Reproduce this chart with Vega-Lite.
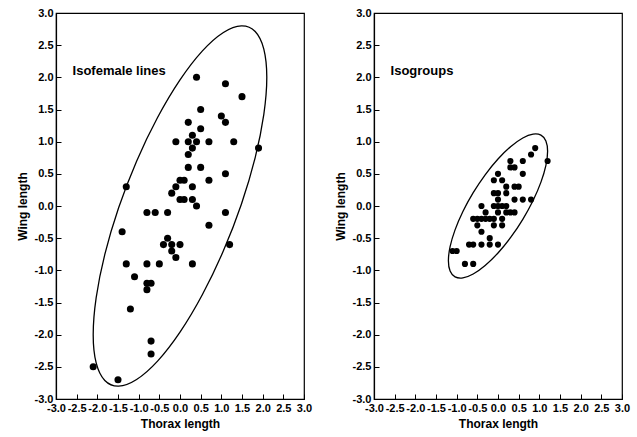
{
  "$schema": "https://vega.github.io/schema/vega-lite/v6.json",
  "padding": {"left": 15, "top": 6, "right": 5, "bottom": 5},
  "background": "white",
  "spacing": 20,
  "config": {
    "view": {"stroke": "#000", "strokeWidth": 1.2},
    "font": "Liberation Sans",
    "axis": {
      "grid": false,
      "domainColor": "#000",
      "domainWidth": 1.2,
      "tickColor": "#000",
      "tickSize": -5,
      "labelPadding": 8,
      "labelFont": "Liberation Sans",
      "labelFontWeight": "bold",
      "labelFontSize": 11,
      "labelColor": "#000",
      "labelOverlap": false,
      "labelFlush": false,
      "labelBound": false,
      "titleFont": "Liberation Sans",
      "titleFontWeight": "bold",
      "titleFontSize": 12,
      "titleColor": "#000",
      "titlePadding": 5
    }
  },
  "datasets": {
    "pts": [
      {"panel": "L", "x": 0.4, "y": 2.0}, {"panel": "L", "x": 1.1, "y": 1.9}, {"panel": "L", "x": 1.5, "y": 1.7},
      {"panel": "L", "x": 0.5, "y": 1.5}, {"panel": "L", "x": 1.0, "y": 1.4}, {"panel": "L", "x": 1.1, "y": 1.3},
      {"panel": "L", "x": 0.2, "y": 1.3}, {"panel": "L", "x": 0.5, "y": 1.2}, {"panel": "L", "x": 0.3, "y": 1.1},
      {"panel": "L", "x": -0.1, "y": 1.0}, {"panel": "L", "x": 0.2, "y": 1.0}, {"panel": "L", "x": 0.4, "y": 1.0},
      {"panel": "L", "x": 0.7, "y": 1.0}, {"panel": "L", "x": 1.3, "y": 1.0}, {"panel": "L", "x": 0.3, "y": 0.9},
      {"panel": "L", "x": 1.9, "y": 0.9}, {"panel": "L", "x": 0.2, "y": 0.8}, {"panel": "L", "x": 0.2, "y": 0.6},
      {"panel": "L", "x": 0.5, "y": 0.6}, {"panel": "L", "x": 1.1, "y": 0.5}, {"panel": "L", "x": 0.7, "y": 0.4},
      {"panel": "L", "x": 0.0, "y": 0.4}, {"panel": "L", "x": 0.1, "y": 0.4}, {"panel": "L", "x": -0.1, "y": 0.3},
      {"panel": "L", "x": 0.3, "y": 0.3}, {"panel": "L", "x": -1.3, "y": 0.3}, {"panel": "L", "x": -0.2, "y": 0.2},
      {"panel": "L", "x": 0.0, "y": 0.1}, {"panel": "L", "x": 0.1, "y": 0.1}, {"panel": "L", "x": 0.3, "y": 0.1},
      {"panel": "L", "x": 0.4, "y": 0.0}, {"panel": "L", "x": -0.8, "y": -0.1}, {"panel": "L", "x": -0.6, "y": -0.1},
      {"panel": "L", "x": -0.3, "y": -0.1}, {"panel": "L", "x": 1.1, "y": -0.1}, {"panel": "L", "x": 0.7, "y": -0.3},
      {"panel": "L", "x": -1.4, "y": -0.4}, {"panel": "L", "x": -0.3, "y": -0.5}, {"panel": "L", "x": -0.4, "y": -0.6},
      {"panel": "L", "x": -0.2, "y": -0.6}, {"panel": "L", "x": 0.0, "y": -0.6}, {"panel": "L", "x": 1.2, "y": -0.6},
      {"panel": "L", "x": -0.2, "y": -0.7}, {"panel": "L", "x": -0.1, "y": -0.8}, {"panel": "L", "x": -1.3, "y": -0.9},
      {"panel": "L", "x": -0.8, "y": -0.9}, {"panel": "L", "x": -0.5, "y": -0.9}, {"panel": "L", "x": 0.3, "y": -0.9},
      {"panel": "L", "x": -1.1, "y": -1.1}, {"panel": "L", "x": -0.8, "y": -1.2}, {"panel": "L", "x": -0.7, "y": -1.2},
      {"panel": "L", "x": -0.8, "y": -1.3}, {"panel": "L", "x": -1.2, "y": -1.6}, {"panel": "L", "x": -0.7, "y": -2.1},
      {"panel": "L", "x": -0.7, "y": -2.3}, {"panel": "L", "x": -2.1, "y": -2.5}, {"panel": "L", "x": -1.5, "y": -2.7},

      {"panel": "R", "x": 0.9, "y": 0.9}, {"panel": "R", "x": 0.8, "y": 0.8}, {"panel": "R", "x": 1.2, "y": 0.7},
      {"panel": "R", "x": 0.3, "y": 0.7}, {"panel": "R", "x": 0.6, "y": 0.7}, {"panel": "R", "x": 0.3, "y": 0.6},
      {"panel": "R", "x": 0.4, "y": 0.6}, {"panel": "R", "x": 0.6, "y": 0.5}, {"panel": "R", "x": 0.0, "y": 0.5},
      {"panel": "R", "x": -0.1, "y": 0.4}, {"panel": "R", "x": 0.1, "y": 0.4}, {"panel": "R", "x": 0.2, "y": 0.3},
      {"panel": "R", "x": 0.4, "y": 0.3}, {"panel": "R", "x": 0.5, "y": 0.3}, {"panel": "R", "x": -0.1, "y": 0.2},
      {"panel": "R", "x": 0.0, "y": 0.2}, {"panel": "R", "x": 0.2, "y": 0.2}, {"panel": "R", "x": 0.0, "y": 0.1},
      {"panel": "R", "x": 0.4, "y": 0.1}, {"panel": "R", "x": 0.6, "y": 0.1}, {"panel": "R", "x": 0.8, "y": 0.1},
      {"panel": "R", "x": -0.4, "y": 0.0}, {"panel": "R", "x": -0.1, "y": 0.0}, {"panel": "R", "x": 0.0, "y": 0.0},
      {"panel": "R", "x": 0.1, "y": 0.0}, {"panel": "R", "x": 0.2, "y": 0.0}, {"panel": "R", "x": -0.3, "y": -0.1},
      {"panel": "R", "x": 0.0, "y": -0.1}, {"panel": "R", "x": 0.2, "y": -0.1}, {"panel": "R", "x": 0.3, "y": -0.1},
      {"panel": "R", "x": 0.4, "y": -0.1}, {"panel": "R", "x": -0.6, "y": -0.2}, {"panel": "R", "x": -0.5, "y": -0.2},
      {"panel": "R", "x": -0.4, "y": -0.2}, {"panel": "R", "x": -0.3, "y": -0.2}, {"panel": "R", "x": -0.2, "y": -0.2},
      {"panel": "R", "x": -0.1, "y": -0.2}, {"panel": "R", "x": 0.1, "y": -0.2}, {"panel": "R", "x": -0.5, "y": -0.3},
      {"panel": "R", "x": -0.1, "y": -0.3}, {"panel": "R", "x": 0.1, "y": -0.3}, {"panel": "R", "x": -0.4, "y": -0.4},
      {"panel": "R", "x": -0.2, "y": -0.5}, {"panel": "R", "x": -0.7, "y": -0.6}, {"panel": "R", "x": -0.6, "y": -0.6},
      {"panel": "R", "x": -0.4, "y": -0.6}, {"panel": "R", "x": -0.2, "y": -0.6}, {"panel": "R", "x": 0.0, "y": -0.6},
      {"panel": "R", "x": -1.1, "y": -0.7}, {"panel": "R", "x": -1.0, "y": -0.7}, {"panel": "R", "x": -0.8, "y": -0.9},
      {"panel": "R", "x": -0.6, "y": -0.9}
    ],
    "ell": [
      {"panel": "L", "t": 0, "x": 2.1, "y": 2.0}, {"panel": "L", "t": 1, "x": 2.028, "y": 2.439},
      {"panel": "L", "t": 2, "x": 1.819, "y": 2.712}, {"panel": "L", "t": 3, "x": 1.485, "y": 2.8},
      {"panel": "L", "t": 4, "x": 1.05, "y": 2.697}, {"panel": "L", "t": 5, "x": 0.543, "y": 2.411},
      {"panel": "L", "t": 6, "x": 0.0, "y": 1.96}, {"panel": "L", "t": 7, "x": -0.543, "y": 1.375},
      {"panel": "L", "t": 8, "x": -1.05, "y": 0.697}, {"panel": "L", "t": 9, "x": -1.485, "y": -0.028},
      {"panel": "L", "t": 10, "x": -1.819, "y": -0.752}, {"panel": "L", "t": 11, "x": -2.028, "y": -1.425},
      {"panel": "L", "t": 12, "x": -2.1, "y": -2.0}, {"panel": "L", "t": 13, "x": -2.028, "y": -2.439},
      {"panel": "L", "t": 14, "x": -1.819, "y": -2.712}, {"panel": "L", "t": 15, "x": -1.485, "y": -2.8},
      {"panel": "L", "t": 16, "x": -1.05, "y": -2.697}, {"panel": "L", "t": 17, "x": -0.543, "y": -2.411},
      {"panel": "L", "t": 18, "x": 0.0, "y": -1.96}, {"panel": "L", "t": 19, "x": 0.543, "y": -1.375},
      {"panel": "L", "t": 20, "x": 1.05, "y": -0.697}, {"panel": "L", "t": 21, "x": 1.485, "y": 0.028},
      {"panel": "L", "t": 22, "x": 1.819, "y": 0.752}, {"panel": "L", "t": 23, "x": 2.028, "y": 1.425},

      {"panel": "R", "t": 0, "x": 1.2, "y": 0.85}, {"panel": "R", "t": 1, "x": 1.159, "y": 1.01},
      {"panel": "R", "t": 2, "x": 1.039, "y": 1.101}, {"panel": "R", "t": 3, "x": 0.849, "y": 1.117},
      {"panel": "R", "t": 4, "x": 0.6, "y": 1.057}, {"panel": "R", "t": 5, "x": 0.311, "y": 0.925},
      {"panel": "R", "t": 6, "x": 0.0, "y": 0.73}, {"panel": "R", "t": 7, "x": -0.311, "y": 0.485},
      {"panel": "R", "t": 8, "x": -0.6, "y": 0.207}, {"panel": "R", "t": 9, "x": -0.849, "y": -0.085},
      {"panel": "R", "t": 10, "x": -1.039, "y": -0.371}, {"panel": "R", "t": 11, "x": -1.159, "y": -0.632},
      {"panel": "R", "t": 12, "x": -1.2, "y": -0.85}, {"panel": "R", "t": 13, "x": -1.159, "y": -1.01},
      {"panel": "R", "t": 14, "x": -1.039, "y": -1.101}, {"panel": "R", "t": 15, "x": -0.849, "y": -1.117},
      {"panel": "R", "t": 16, "x": -0.6, "y": -1.057}, {"panel": "R", "t": 17, "x": -0.311, "y": -0.925},
      {"panel": "R", "t": 18, "x": 0.0, "y": -0.73}, {"panel": "R", "t": 19, "x": 0.311, "y": -0.485},
      {"panel": "R", "t": 20, "x": 0.6, "y": -0.207}, {"panel": "R", "t": 21, "x": 0.849, "y": 0.085},
      {"panel": "R", "t": 22, "x": 1.039, "y": 0.371}, {"panel": "R", "t": 23, "x": 1.159, "y": 0.632}
    ],
    "notes": [
      {"panel": "L", "label": "Isofemale lines", "x": -2.6, "y": 2.1},
      {"panel": "R", "label": "Isogroups", "x": -2.6, "y": 2.1}
    ]
  },
  "hconcat": [
    {
      "width": 248,
      "height": 386,
      "encoding": {
        "x": {"field": "x", "type": "quantitative", "scale": {"domain": [-3, 3], "nice": false},
              "axis": {"tickCount": 12, "labelExpr": "(datum.value < 0 ? '-' : '') + format(abs(datum.value), '.1f')", "title": "Thorax length"}},
        "y": {"field": "y", "type": "quantitative", "scale": {"domain": [-3, 3], "nice": false},
              "axis": {"tickCount": 12, "labelExpr": "(datum.value < 0 ? '-' : '') + format(abs(datum.value), '.1f')", "title": "Wing length"}}
      },
      "layer": [
        {
          "data": {"name": "ell"},
          "transform": [{"filter": "datum.panel === 'L'"}],
          "mark": {"type": "line", "interpolate": "cardinal-closed", "color": "#000", "strokeWidth": 1.3},
          "encoding": {
            "order": {"field": "t", "type": "quantitative"}
          }
        },
        {
          "data": {"name": "pts"},
          "transform": [{"filter": "datum.panel === 'L'"}],
          "mark": {"type": "circle", "color": "#000", "opacity": 1, "size": 50}
        },
        {
          "data": {"name": "notes"},
          "transform": [{"filter": "datum.panel === 'L'"}],
          "mark": {"type": "text", "align": "left", "baseline": "middle", "fontSize": 13, "fontWeight": "bold", "font": "Liberation Sans", "color": "#000"},
          "encoding": {
            "text": {"field": "label", "type": "nominal"}
          }
        }
      ]
    },
    {
      "width": 248,
      "height": 386,
      "encoding": {
        "x": {"field": "x", "type": "quantitative", "scale": {"domain": [-3, 3], "nice": false},
              "axis": {"tickCount": 12, "labelExpr": "(datum.value < 0 ? '-' : '') + format(abs(datum.value), '.1f')", "title": "Thorax length"}},
        "y": {"field": "y", "type": "quantitative", "scale": {"domain": [-3, 3], "nice": false},
              "axis": {"tickCount": 12, "labelExpr": "(datum.value < 0 ? '-' : '') + format(abs(datum.value), '.1f')", "title": "Wing length"}}
      },
      "layer": [
        {
          "data": {"name": "ell"},
          "transform": [{"filter": "datum.panel === 'R'"}],
          "mark": {"type": "line", "interpolate": "cardinal-closed", "color": "#000", "strokeWidth": 1.3},
          "encoding": {
            "order": {"field": "t", "type": "quantitative"}
          }
        },
        {
          "data": {"name": "pts"},
          "transform": [{"filter": "datum.panel === 'R'"}],
          "mark": {"type": "circle", "color": "#000", "opacity": 1, "size": 38}
        },
        {
          "data": {"name": "notes"},
          "transform": [{"filter": "datum.panel === 'R'"}],
          "mark": {"type": "text", "align": "left", "baseline": "middle", "fontSize": 13, "fontWeight": "bold", "font": "Liberation Sans", "color": "#000"},
          "encoding": {
            "text": {"field": "label", "type": "nominal"}
          }
        }
      ]
    }
  ]
}
